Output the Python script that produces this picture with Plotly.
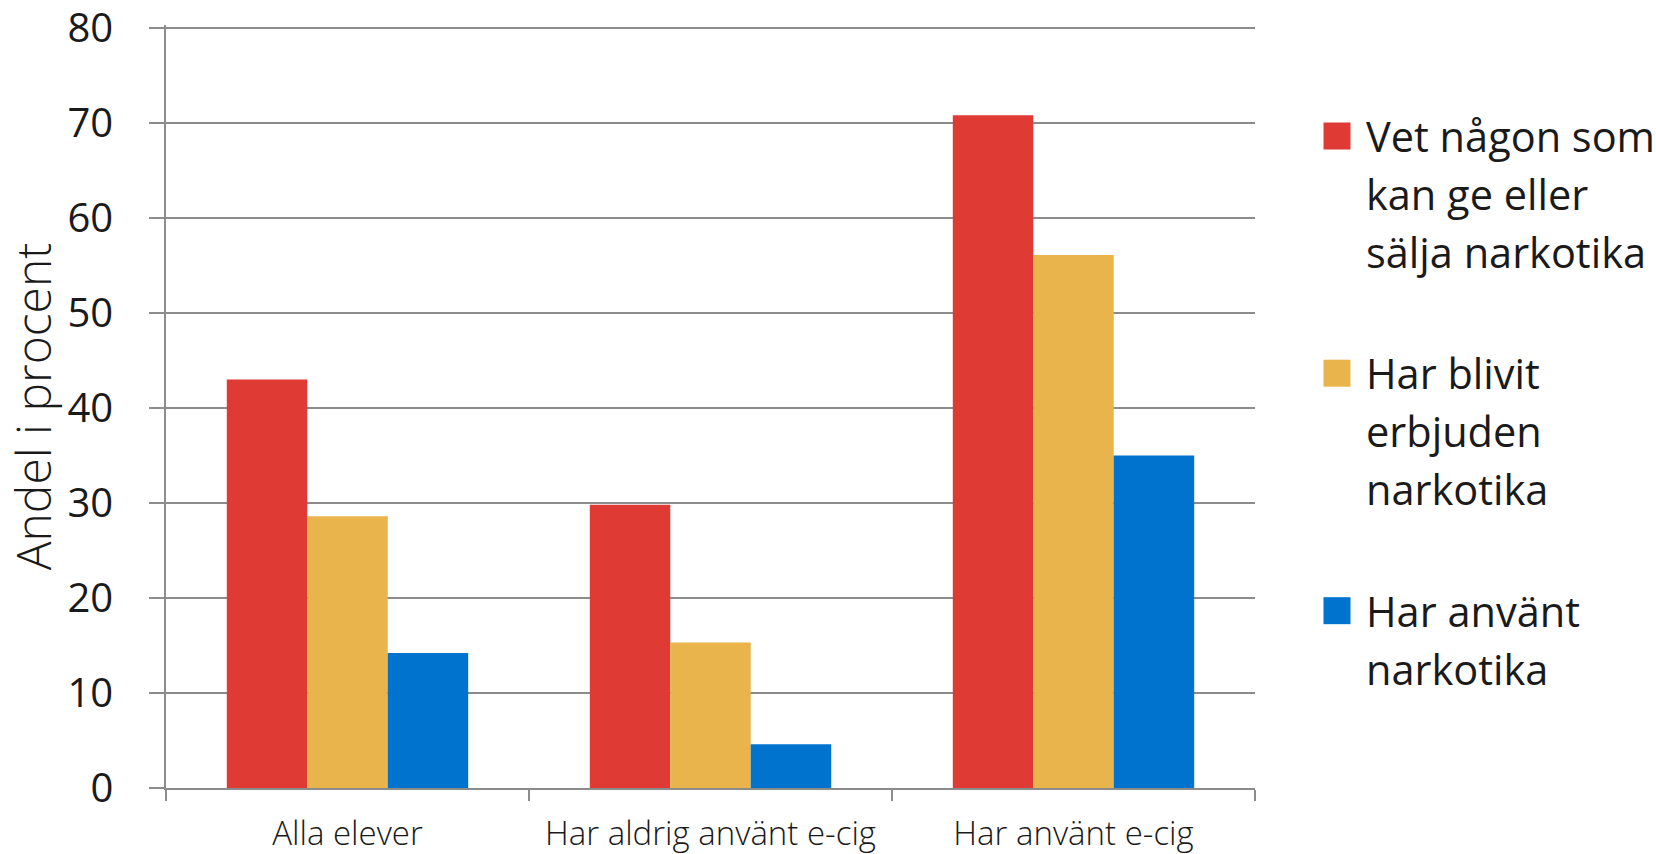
import plotly.graph_objects as go

# ---- data ----
categories = ["Alla elever", "Har aldrig använt e-cig", "Har använt e-cig"]
series_names = [
    "Vet någon som kan ge eller sälja narkotika",
    "Har blivit erbjuden narkotika",
    "Har använt narkotika",
]
legend_lines = [
    ["Vet någon som", "kan ge eller", "sälja narkotika"],
    ["Har blivit", "erbjuden", "narkotika"],
    ["Har använt", "narkotika"],
]
vet_nagon = [43.0, 29.8, 70.8]
erbjuden = [28.6, 15.3, 56.1]
anvant_narkotika = [14.2, 4.6, 35.0]
y_tick_values = [0, 10, 20, 30, 40, 50, 60, 70, 80]
y_max = 80
y_title = "Andel i procent"

colors = ["#DF3A33", "#E8B44B", "#0073CF"]
series_values = [vet_nagon, erbjuden, anvant_narkotika]

# ---- layout geometry (pixels) ----
W, H = 1656, 854
Y0_PX, Y80_PX = 788.5, 28.0       # pixel rows of y=0 and y=80
HEAD = 0.3                         # small headroom so the top tick/grid is kept
PX_PER_UNIT = (Y0_PX - Y80_PX) / y_max
ML, MR = 166, 401
MB = H - Y0_PX
MT = Y80_PX - HEAD * PX_PER_UNIT
PW = W - ML - MR
PH = H - MT - MB
GRAY = "#8C8C8C"


def px_x(px):
    return (px - ML) / PW


def px_y(py):
    return 1 - (py - MT) / PH


fig = go.Figure()
for name, vals, col in zip(series_names, series_values, colors):
    fig.add_trace(go.Bar(
        x=categories, y=vals, name=name, marker=dict(color=col, line=dict(width=0)),
        showlegend=False,
    ))

# manual legend (large squares + wrapped text)
shapes = []
annotations = []
sq_tops = [122.7, 360.0, 597.6]
sq_size = 27
line_gap = 58
for i, lines in enumerate(legend_lines):
    top = sq_tops[i]
    shapes.append(dict(
        type="rect", xref="paper", yref="paper",
        x0=px_x(1323.5), x1=px_x(1323.5 + sq_size),
        y0=px_y(top + sq_size), y1=px_y(top),
        fillcolor=colors[i], line=dict(width=0),
    ))
    center = top + sq_size / 2
    for j, ln in enumerate(lines):
        annotations.append(dict(
            text=ln, xref="paper", yref="paper",
            x=px_x(1364), y=px_y(center + j * line_gap),
            xanchor="left", yanchor="middle", showarrow=False,
            font=dict(family="Open Sans", size=41.5, color="#1a1a1a"),
        ))

fig.update_layout(
    template="none",
    width=W, height=H,
    margin=dict(l=ML, r=MR, t=MT, b=MB, pad=0),
    paper_bgcolor="white", plot_bgcolor="white",
    barmode="group", bargap=0.335, bargroupgap=0,
    showlegend=False,
    shapes=shapes,
    annotations=annotations,
    font=dict(family="Open Sans", color="#1a1a1a"),
)
fig.update_xaxes(
    type="category", automargin=False,
    showline=True, linecolor=GRAY, linewidth=1.5,
    ticks="outside", tickson="boundaries", ticklen=11, tickwidth=1.5, tickcolor=GRAY,
    showgrid=False, zeroline=False,
    tickfont=dict(family="Open Sans", size=33, weight=300, color="#1a1a1a"),
    ticklabelstandoff=16,
    ticklabeloverflow="allow",
)
fig.update_yaxes(
    range=[0, y_max + HEAD], automargin=False,
    tickmode="array", tickvals=y_tick_values,
    showgrid=True, gridcolor=GRAY, gridwidth=1.5,
    showline=True, linecolor=GRAY, linewidth=1.5,
    ticks="outside", ticklen=15, tickwidth=1.5, tickcolor=GRAY,
    zeroline=False,
    tickfont=dict(family="Open Sans", size=40, color="#1a1a1a"),
    ticklabelstandoff=28,
    ticklabeloverflow="allow",
    title=dict(text=y_title, standoff=12,
               font=dict(family="Open Sans", size=48, weight=300, color="#1a1a1a")),
)

fig.write_html(
    "out.html",
    config={"displayModeBar": False},
    post_script="document.body.style.margin='0';document.body.style.overflow='hidden';",
)
